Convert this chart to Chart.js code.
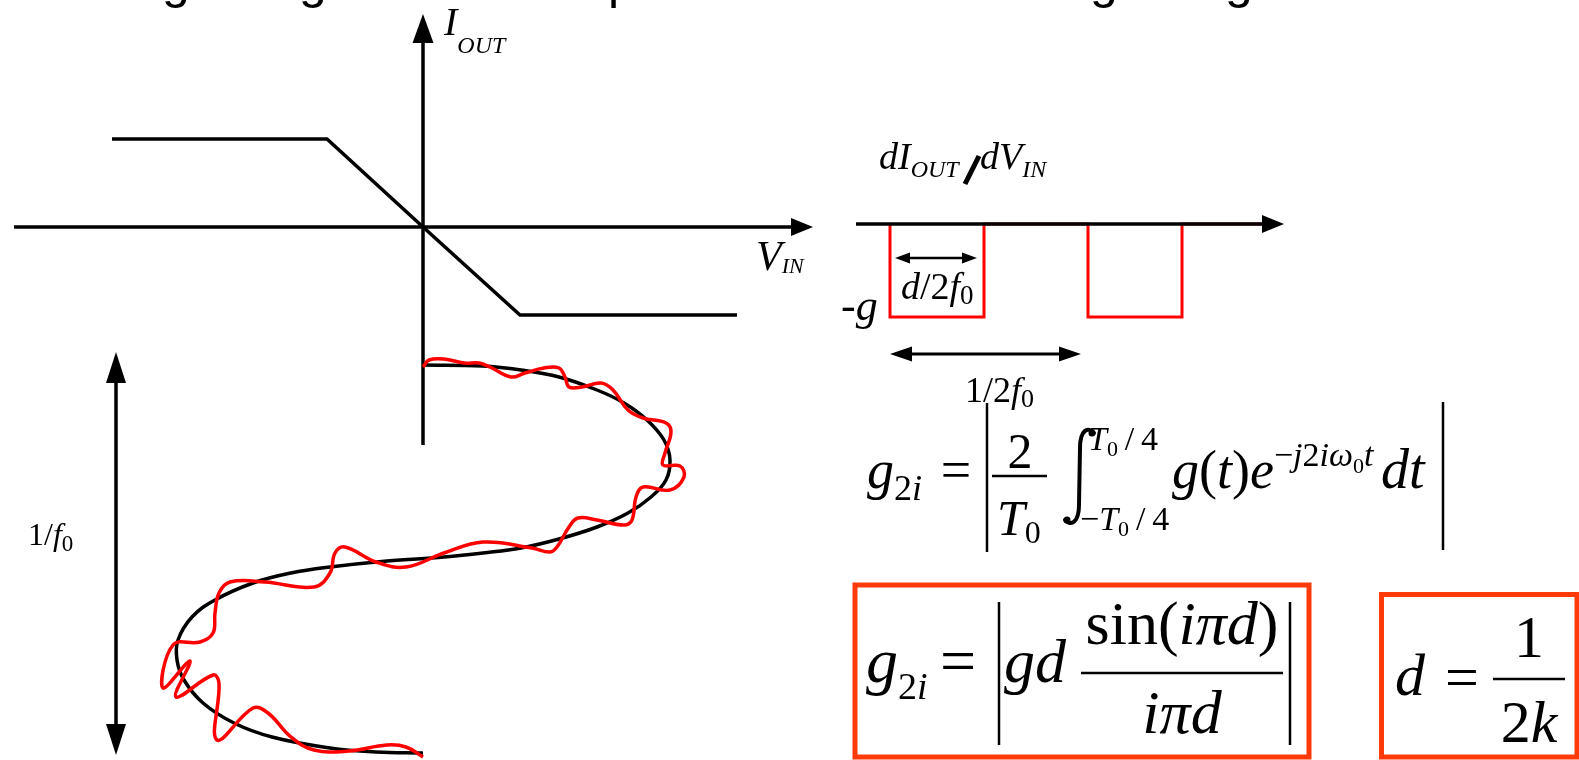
<!DOCTYPE html>
<html>
<head>
<meta charset="utf-8">
<script src="https://cdn.jsdelivr.net/npm/chart.js@4.4.1/dist/chart.umd.min.js"></script>
<style>
  html, body { margin: 0; padding: 0; background: #fff; overflow: hidden; }
  #diagram { display: block; }
</style>
</head>
<body>
<canvas id="diagram" width="1579" height="760"></canvas>
<script>
// --- Data (diagram units: x to the right, y downward) ---

// transfer characteristic I_OUT(V_IN)
const transferCurve = [[112, 139], [327, 139], [423, 227], [520, 315], [737, 315]];
const vinAxis = [[14, 227], [791, 227]];
const ioutAxis = [[423, 445], [423, 43]];

// V_IN(t), time running downwards: clean sine and noisy copy
const sineCurve = [
  [423, 365], [483, 366], [521, 370], [559, 377], [597, 390], [624, 403], [647, 420],
  [664, 440], [670, 460], [666, 480], [651, 497], [628, 513], [597, 527], [559, 539],
  [521, 548], [483, 553], [444, 557], [387, 561], [330, 567], [291, 573], [253, 583],
  [215, 600], [192, 617], [178, 640], [177, 660], [184, 680], [203, 703], [234, 723],
  [272, 737], [330, 748], [376, 752], [423, 753]
];
const noisyCurve = [
  [423, 367], [429, 360], [444, 359], [464, 363], [479, 363], [490, 367], [511, 377],
  [525, 373], [544, 368], [559, 368], [565, 377], [569, 387], [582, 387], [601, 383],
  [613, 390], [628, 410], [643, 418], [666, 423], [671, 432], [665, 453], [663, 465],
  [680, 466], [684, 477], [670, 490], [643, 487], [636, 497], [632, 520], [624, 525],
  [597, 520], [578, 518], [569, 527], [557, 547], [550, 552], [532, 548], [483, 542],
  [444, 553], [406, 567], [376, 562], [345, 547], [335, 553], [330, 573], [314, 587],
  [265, 582], [230, 582], [219, 593], [215, 613], [213, 633], [200, 642], [173, 645],
  [163, 688], [190, 661], [176, 697], [213, 675], [219, 683], [217, 740], [253, 708],
  [268, 713], [291, 737], [314, 750], [349, 751], [387, 745], [406, 747], [423, 757]
];
const periodArrow = [[116, 383], [116, 724]];

// dI_OUT/dV_IN pulse train
const derivAxis = [[856, 224], [1262, 224]];
const pulseWave = [
  [890, 224], [890, 317], [984, 317], [984, 224], [1088, 224],
  [1088, 317], [1182, 317], [1182, 224], [1262, 224]
];
const dutyArrow = [[910, 258], [962, 258]];
const halfPeriodArrow = [[912, 354], [1059, 354]];

// equation strokes (abs bars, fraction bars, slash) and boxes
const eqStrokes = [
  [[987, 403], [987, 552]], [[1443, 402], [1443, 550]], [[992, 476], [1047, 476]],
  [[999, 602], [999, 745]], [[1290, 602], [1290, 745]], [[1081, 673], [1283, 673]],
  [[1493, 679], [1565, 679]]
];
const slashStroke = [[965, 184], [979, 156]];
const boxOne = [[1082, 757], [855, 757], [855, 585], [1309, 585], [1309, 757], [1082, 757]];
const boxTwo = [[1480, 757], [1381.5, 757], [1381.5, 594.5], [1577, 594.5], [1577, 757], [1480, 757]];

// cut-off title: only descenders show
const titleLetters = ["g", "g", "p", "g", "g"];
const titleLetterX = [162, 299, 608, 1090, 1225];

const serif = '"Liberation Serif", "DejaVu Serif", serif';
const sans = '"Liberation Sans", Arial, sans-serif';
const boxColor = "#ff3a0a";

// --- labels: [text, size, style, dy] runs ---
const labels = [
  { x: 444, y: 35, runs: [["I", 40, "i"], ["OUT", 24, "i", 18]] },
  { x: 756, y: 270, runs: [["V", 42, "i"], ["IN", 22, "i", 3]] },
  { x: 879, y: 169, runs: [["dI", 38, "i"], ["OUT", 24, "i", 8]] },
  { x: 980, y: 169, runs: [["dV", 38, "i"], ["IN", 24, "i", 8]] },
  { x: 841, y: 320, runs: [["-", 44, "r"], ["g", 44, "i"]] },
  { x: 901, y: 299, runs: [["d", 38, "i"], ["/2", 38, "r"], ["f", 38, "i"], ["0", 27, "r", 5]] },
  { x: 965, y: 402, runs: [["1/2", 36, "r"], ["f", 36, "i"], ["0", 26, "r", 5]] },
  { x: 28, y: 545, runs: [["1/", 32, "r"], ["f", 32, "i"], ["0", 23, "r", 6]] },
  // g_2i = |2/T0 ∫ g(t) e^(-j2iω0t) dt|
  { x: 867, y: 488, runs: [["g", 54, "i"], ["2", 36, "r", 12], ["i", 36, "i", 12]] },
  { x: 956, y: 488, align: "center", runs: [["=", 54, "r"]] },
  { x: 1020, y: 468, align: "center", runs: [["2", 50, "r"]] },
  { x: 997, y: 535, runs: [["T", 50, "i"], ["0", 32, "r", 8]] },
  { x: 1088, y: 450, runs: [["T", 34, "i"], ["0", 22, "r", 6], ["\u2009/\u20094", 34, "r"]] },
  { x: 1080, y: 530, runs: [["\u2212", 34, "r"], ["T", 34, "i"], ["0", 22, "r", 6], ["\u2009/\u20094", 34, "r"]] },
  { x: 1172, y: 488, runs: [["g", 54, "i"], ["(", 54, "r"], ["t", 54, "i"], [")", 54, "r"], ["e", 54, "i"],
    ["\u2212", 34, "r", -22], ["j", 34, "i", -22], ["2", 34, "r", -22], ["i\u03c9", 34, "i", -22],
    ["0", 22, "r", -15], ["t", 34, "i", -22]] },
  { x: 1381, y: 488, runs: [["dt", 56, "i"]] },
  // boxed: g_2i = |gd sin(iπd)/(iπd)|
  { x: 866, y: 682, runs: [["g", 64, "i"], ["2", 38, "r", 17], ["i", 38, "i", 17]] },
  { x: 958, y: 682, align: "center", runs: [["=", 64, "r"]] },
  { x: 1004, y: 682, runs: [["gd", 62, "i"]] },
  { x: 1182, y: 644, align: "center", runs: [["sin(", 62, "r"], ["i\u03c0d", 62, "i"], [")", 62, "r"]] },
  { x: 1182, y: 733, align: "center", runs: [["i\u03c0d", 62, "i"]] },
  // boxed: d = 1/2k
  { x: 1395, y: 695, runs: [["d", 60, "i"]] },
  { x: 1462, y: 697, align: "center", runs: [["=", 60, "r"]] },
  { x: 1529, y: 657, align: "center", runs: [["1", 60, "r"]] },
  { x: 1529, y: 742, align: "center", runs: [["2", 60, "r"], ["k", 60, "i"]] }
];

function fontFor(size, style) {
  if (style === "s") return size + "px " + sans;
  return (style === "i" ? "italic " : "") + size + "px " + serif;
}

function drawRuns(ctx, x, y, runs, align) {
  let w = 0;
  runs.forEach((r) => { ctx.font = fontFor(r[1], r[2]); w += ctx.measureText(r[0]).width; });
  let cx = align === "center" ? x - w / 2 : x;
  runs.forEach((r) => {
    ctx.font = fontFor(r[1], r[2]);
    ctx.fillText(r[0], cx, y + (r[3] || 0));
    cx += ctx.measureText(r[0]).width;
  });
}

const toPoints = (arr) => arr.map(([x, y]) => ({ x, y }));

function line(points, color, width, extra) {
  return Object.assign({
    data: toPoints(points),
    showLine: true,
    borderColor: color,
    backgroundColor: color,
    borderWidth: width,
    pointRadius: 0,
    tension: 0,
    fill: false,
    order: 1
  }, extra || {});
}

// --- arrow heads drawn at dataset ends ---
const arrowPlugin = {
  id: "arrowHeads",
  afterDatasetsDraw(chart) {
    const ctx = chart.ctx;
    chart.data.datasets.forEach((ds, i) => {
      if (!ds.arrow) return;
      const pts = chart.getDatasetMeta(i).data;
      const head = (p, q) => {
        let dx = p.x - q.x, dy = p.y - q.y;
        const len = Math.hypot(dx, dy);
        dx /= len; dy /= len;
        const L = ds.arrow.len, H = ds.arrow.half;
        ctx.beginPath();
        ctx.moveTo(p.x + dx * L, p.y + dy * L);
        ctx.lineTo(p.x - dy * H, p.y + dx * H);
        ctx.lineTo(p.x + dy * H, p.y - dx * H);
        ctx.closePath();
        ctx.fill();
      };
      ctx.save();
      ctx.fillStyle = ds.borderColor;
      if (ds.arrow.end) head(pts[pts.length - 1], pts[pts.length - 2]);
      if (ds.arrow.start) head(pts[0], pts[1]);
      ctx.restore();
    });
  }
};

// --- text and integral sign ---
const textPlugin = {
  id: "mathText",
  afterDraw(chart) {
    const ctx = chart.ctx;
    const sx = chart.scales.x, sy = chart.scales.y;
    const X = (v) => sx.getPixelForValue(v), Y = (v) => sy.getPixelForValue(v);
    ctx.save();
    ctx.fillStyle = "#000";
    ctx.textBaseline = "alphabetic";
    ctx.textAlign = "left";

    titleLetters.forEach((ch, i) => drawRuns(ctx, X(titleLetterX[i]), Y(-2), [[ch, 50, "s"]]));
    labels.forEach((lb) => drawRuns(ctx, X(lb.x), Y(lb.y), lb.runs, lb.align));

    // integral sign
    ctx.strokeStyle = "#000";
    ctx.lineWidth = 4;
    ctx.lineCap = "round";
    ctx.beginPath();
    ctx.moveTo(X(1094), Y(433));
    ctx.bezierCurveTo(X(1088), Y(426), X(1080), Y(430), X(1080), Y(448));
    ctx.lineTo(X(1079), Y(505));
    ctx.bezierCurveTo(X(1079), Y(522), X(1071), Y(527), X(1065), Y(520));
    ctx.stroke();
    ctx.beginPath();
    ctx.arc(X(1092), Y(433), 3.5, 0, Math.PI * 2);
    ctx.arc(X(1067), Y(520), 3.5, 0, Math.PI * 2);
    ctx.fill();
    ctx.restore();
  }
};

const datasets = [
  line(transferCurve, "#000", 3.5),
  line(vinAxis, "#000", 3.5, { arrow: { end: true, len: 22, half: 9 }, order: 0 }),
  line(ioutAxis, "#000", 3.5, { arrow: { end: true, len: 29, half: 10.5 }, order: 2 }),
  line(sineCurve, "#000", 3.5, { tension: 0.4, order: 2 }),
  line(noisyCurve, "#ff0000", 3.5, { tension: 0.4, order: 0 }),
  line(periodArrow, "#000", 3.5, { arrow: { start: true, end: true, len: 31, half: 10 } }),
  line(pulseWave, "#ff0000", 3, { order: 3 }),
  line(derivAxis, "#000", 3.5, { arrow: { end: true, len: 22, half: 9 }, order: 0 }),
  line(dutyArrow, "#000", 2.5, { arrow: { start: true, end: true, len: 15, half: 5.5 } }),
  line(halfPeriodArrow, "#000", 3, { arrow: { start: true, end: true, len: 22, half: 7.5 } }),
  line(slashStroke, "#000", 5),
  line(boxOne, boxColor, 5),
  line(boxTwo, boxColor, 5)
];
eqStrokes.forEach((s) => datasets.push(line(s, "#000", 2.5)));

const diagram = new Chart(document.getElementById("diagram").getContext("2d"), {
  type: "scatter",
  data: { datasets },
  options: {
    responsive: false,
    animation: false,
    layout: { padding: 0 },
    plugins: { legend: { display: false }, tooltip: { enabled: false } },
    scales: {
      x: { type: "linear", min: 0, max: 1579, display: false },
      y: { type: "linear", min: 0, max: 760, reverse: true, display: false }
    }
  },
  plugins: [arrowPlugin, textPlugin]
});
</script>
</body>
</html>
